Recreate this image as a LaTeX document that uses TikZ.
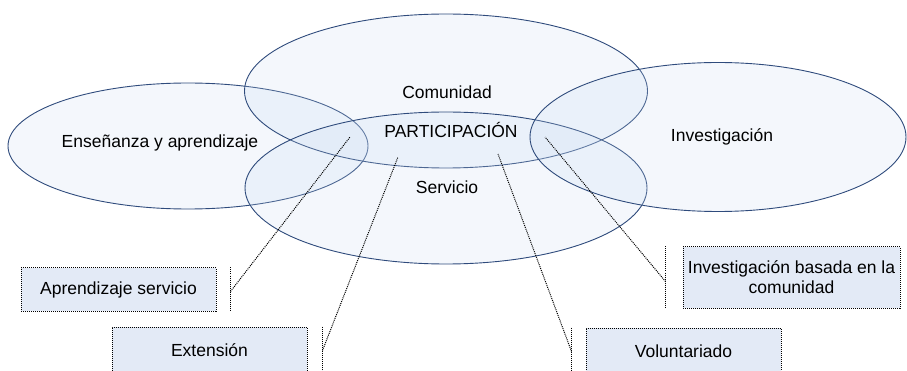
\documentclass[tikz,border=0pt]{standalone}
\usepackage{fontspec}
\setmainfont{Liberation Sans}
\usetikzlibrary{shapes.geometric}
\definecolor{borde}{HTML}{2F4B7C}
\definecolor{relleno}{HTML}{C6D9F1}
\definecolor{fondocaja}{HTML}{E3EAF6}
\tikzstyle{circulo} = [ellipse, 
draw=borde, 
line width=0.9pt, 
fill=relleno, 
fill opacity=0.2]
\tikzstyle{etiqueta} = [font=\fontsize{17.5}{21}\selectfont, 
text=black]
\tikzstyle{caja} = [rectangle, 
minimum width=195, 
minimum height=43, 
text centered, 
align=center, 
draw=black, 
dash pattern=on 1pt off 1pt, 
line width=1pt, 
fill=fondocaja, 
font=\fontsize{17.5}{20}\selectfont]
\tikzstyle{guia} = [dash pattern=on 1pt off 1pt, line width=1pt, draw=black]

\begin{document}
\begin{tikzpicture}[x=1pt,y=-1pt]
  \useasboundingbox (0,0) rectangle (907,371);
  \clip (0,0) rectangle (907,371);
  % conjuntos
  \node (ensenanza) [circulo, minimum width=360, minimum height=126] at (188,146) {};
  \node (comunidad) [circulo, minimum width=403, minimum height=154] at (446,91) {};
  \node (servicio) [circulo, minimum width=402, minimum height=152] at (446,188) {};
  \node (investigacion) [circulo, minimum width=376, minimum height=149] at (718,137) {};
  % textos
  \node (t-ens) [etiqueta] at (160,143) {Enseñanza y aprendizaje};
  \node (t-com) [etiqueta] at (447,92) {Comunidad};
  \node (t-par) [etiqueta] at (451,130) {PARTICIPACIÓN};
  \node (t-ser) [etiqueta] at (447,187) {Servicio};
  \node (t-inv) [etiqueta] at (722,137) {Investigación};
  % puntos de las llamadas
  \coordinate (p-as) at (350,137);
  \coordinate (p-ext) at (398,157);
  \coordinate (p-vol) at (498,154);
  \coordinate (p-ibc) at (545,137);
  % cajas
  \node (as) [caja] at (118.5,289.5) {Aprendizaje servicio};
  \node (ext) [caja, minimum height=47] at (209.5,350.5) {Extensión};
  \node (ibc) [caja, minimum width=217, minimum height=61] at (791.5,277.5) {Investigación basada en la\\comunidad};
  \node (vol) [caja, minimum height=47] at (683.5,351.5) {Voluntariado};
  % barras
  \draw [guia] ([xshift=14pt]as.north east) -- ([xshift=14pt]as.south east);
  \draw [guia] ([xshift=15pt]ext.north east) -- ([xshift=15pt]ext.south east);
  \draw [guia] ([xshift=-17pt]ibc.north west) -- ([xshift=-17pt]ibc.south west);
  \draw [guia] ([xshift=-14pt]vol.north west) -- ([xshift=-14pt]vol.south west);
  \coordinate (b-as) at ([xshift=14pt,yshift=-2pt]as.east);
  \coordinate (b-ext) at ([xshift=15pt]ext.east);
  \coordinate (b-ibc) at ([xshift=-17pt,yshift=-4pt]ibc.west);
  \coordinate (b-vol) at ([xshift=-14pt]vol.west);
  % lineas
  \draw [guia] (b-as) -- (p-as);
  \draw [guia] (b-ext) -- (p-ext);
  \draw [guia] (b-ibc) -- (p-ibc);
  \draw [guia] (b-vol) -- (p-vol);
\end{tikzpicture}
\end{document}
